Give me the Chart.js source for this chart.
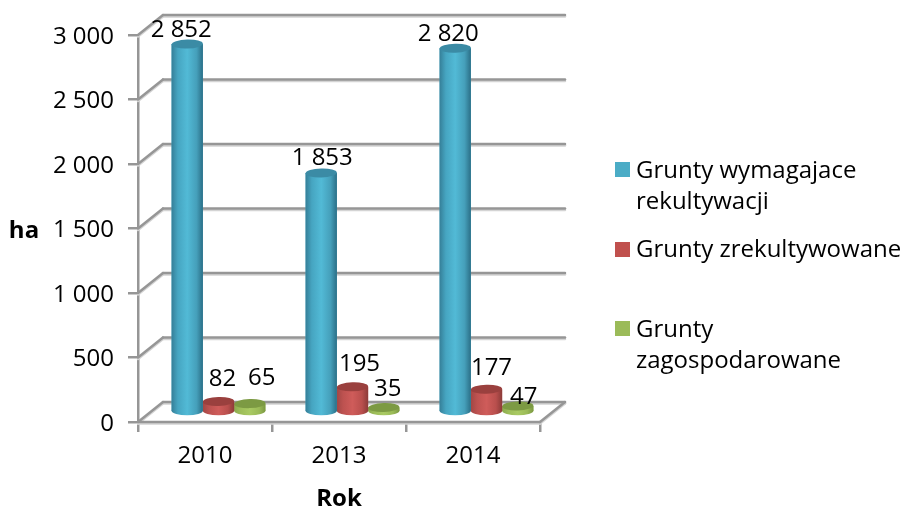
<!DOCTYPE html>
<html>
<head>
<meta charset="utf-8">
<style>
    html, body { margin: 0; padding: 0; background: #ffffff; }
    canvas { display: block; }
</style>
<script src="https://cdn.jsdelivr.net/npm/chart.js"></script>
</head>
<body>
<canvas id="chart" width="902" height="506"></canvas>
<script>
const years = ["2010", "2013", "2014"];
const seriesNames = ["Grunty wymagajace rekultywacji", "Grunty zrekultywowane", "Grunty zagospodarowane"];
const wymagajace = [2852, 1853, 2820];
const zrekultywowane = [82, 195, 177];
const zagospodarowane = [65, 35, 47];
const legendLines = [["Grunty wymagajace", "rekultywacji"], ["Grunty zrekultywowane"], ["Grunty", "zagospodarowane"]];

const FONT = "'Open Sans', sans-serif";
const TEXT_SIZE = 24;
const GRID_COLOR = "#969696";
const GRID_SHADOW = "#d4d4d4";
const DEPTH_X = 25;
const DEPTH_Y = -20;
const BAR_SHIFT_X = 13.5;
const BAR_SHIFT_Y = -10;
const CAP_RY = 4.5;
const CAP_TILT = -0.03;

// edge, shoulder, middle, shoulder, edge, top of the cylinder
const barShades = [
    ["#357f98", "#46a5c1", "#52bad6", "#459fba", "#2b6f87", "#3b8ba5"],
    ["#a24745", "#bd5250", "#cf5c5a", "#b94f4d", "#8c3b39", "#9a403e"],
    ["#8aa94e", "#9dbd59", "#a9ca63", "#9aba57", "#7b9842", "#7c9a43"]
];

// label offset from the top of each cylinder, by series then year
const labelNudge = [
    [[-6, -14], [1, -15], [-7, -14]],
    [[4, -22], [7, -23], [5, -21]],
    [[12, -25], [4, -18], [6, -9]]
];

const legendRows = [
    {boxY: 162, textY: [171, 202]},
    {boxY: 242, textY: [250]},
    {boxY: 321, textY: [330, 361]}
];

const formatNumber = (value) => String(value).replace(/\B(?=(\d{3})+$)/g, " ");

const line = (ctx, x1, y1, x2, y2) => {
    ctx.beginPath();
    ctx.moveTo(x1, y1);
    ctx.lineTo(x2, y2);
    ctx.stroke();
};

const wallPlugin = {
    id: "wall",
    beforeDatasetsDraw(chart) {
        const ctx = chart.ctx;
        const area = chart.chartArea;
        const yScale = chart.scales.y;
        ctx.save();
        ctx.lineCap = "round";
        [[GRID_SHADOW, 1.5], [GRID_COLOR, 0]].forEach(([color, drop]) => {
            ctx.strokeStyle = color;
            ctx.lineWidth = 2.5;
            yScale.ticks.forEach((tick) => {
                const y = yScale.getPixelForValue(tick.value) + drop;
                line(ctx, area.left, y, area.left + DEPTH_X, y + DEPTH_Y);
                line(ctx, area.left + DEPTH_X, y + DEPTH_Y, area.right + DEPTH_X, y + DEPTH_Y);
            });
            const floor = area.bottom + drop;
            line(ctx, area.left, floor, area.right, floor);
            line(ctx, area.right, floor, area.right + DEPTH_X, floor + DEPTH_Y);
        });
        ctx.restore();
    },
    beforeDatasetDraw(chart) {
        chart.ctx.save();
        chart.ctx.translate(BAR_SHIFT_X, BAR_SHIFT_Y);
    },
    afterDatasetDraw(chart, args) {
        const ctx = chart.ctx;
        const shades = barShades[args.index];
        args.meta.data.forEach((bar) => {
            const rx = bar.width / 2;
            const gradient = ctx.createLinearGradient(bar.x - rx, 0, bar.x + rx, 0);
            gradient.addColorStop(0, shades[0]);
            gradient.addColorStop(0.2, shades[1]);
            gradient.addColorStop(0.5, shades[2]);
            gradient.addColorStop(0.8, shades[3]);
            gradient.addColorStop(1, shades[4]);
            ctx.fillStyle = gradient;
            ctx.fillRect(bar.x - rx, bar.y, bar.width, bar.base - bar.y);
            ctx.beginPath();
            ctx.ellipse(bar.x, bar.base, rx, CAP_RY, 0, 0, Math.PI * 2);
            ctx.fill();
            ctx.fillStyle = shades[5];
            ctx.beginPath();
            ctx.ellipse(bar.x, bar.y, rx, CAP_RY, CAP_TILT, 0, Math.PI * 2);
            ctx.fill();
        });
        ctx.restore();
    },
    afterDatasetsDraw(chart) {
        const ctx = chart.ctx;
        ctx.save();
        ctx.fillStyle = "#000000";
        ctx.textAlign = "center";
        ctx.textBaseline = "middle";
        ctx.font = TEXT_SIZE + "px " + FONT;
        chart.data.datasets.forEach((dataset, i) => {
            chart.getDatasetMeta(i).data.forEach((bar, j) => {
                const x = bar.x + BAR_SHIFT_X + labelNudge[i][j][0];
                const y = bar.y + BAR_SHIFT_Y + labelNudge[i][j][1];
                ctx.fillText(formatNumber(dataset.data[j]), x, y);
            });
        });

        ctx.font = "bold " + TEXT_SIZE + "px " + FONT;
        ctx.fillText("ha", 24, 231);

        ctx.textAlign = "left";
        ctx.font = TEXT_SIZE + "px " + FONT;
        legendRows.forEach((row, i) => {
            ctx.fillStyle = chart.data.datasets[i].backgroundColor;
            ctx.fillRect(615, row.boxY, 15, 15);
            ctx.fillStyle = "#000000";
            legendLines[i].forEach((text, k) => ctx.fillText(text, 636, row.textY[k]));
        });
        ctx.restore();
    }
};

const getConfig = () => {
    const tickStyle = {color: "#000000", font: {family: FONT, size: TEXT_SIZE}};
    const gridStyle = {drawOnChartArea: false, color: GRID_COLOR, lineWidth: 2.5, tickLength: 10};
    const borderStyle = {color: GRID_COLOR, width: 2.5};
    const seriesValues = [wymagajace, zrekultywowane, zagospodarowane];
    const seriesColors = ["#4bacc6", "#c0504d", "#9bbb59"];
    return {
        type: "bar",
        data: {
            labels: years,
            datasets: seriesValues.map((values, i) => ({
                label: seriesNames[i],
                data: values,
                backgroundColor: seriesColors[i],
                barPercentage: 1,
                categoryPercentage: 0.7
            }))
        },
        plugins: [wallPlugin],
        options: {
            responsive: false,
            animation: false,
            layout: {padding: {top: 35, right: 362, bottom: 0, left: 0}},
            plugins: {legend: {display: false}, tooltip: {enabled: false}},
            scales: {
                x: {
                    grid: gridStyle,
                    border: borderStyle,
                    ticks: {...tickStyle, padding: 10, maxRotation: 0},
                    title: {
                        display: true,
                        text: "Rok",
                        color: "#000000",
                        font: {family: FONT, size: TEXT_SIZE, weight: "bold"},
                        padding: {top: 4, bottom: -8}
                    },
                    afterFit: (scale) => { scale.height = 84; }
                },
                y: {
                    min: 0,
                    max: 3000,
                    grid: gridStyle,
                    border: borderStyle,
                    ticks: {...tickStyle, stepSize: 500, padding: 14, labelOffset: 2, callback: (value) => formatNumber(value)},
                    afterFit: (scale) => { scale.width = 138; }
                }
            }
        }
    };
};

new Chart(document.getElementById("chart"), getConfig());
</script>
</body>
</html>
